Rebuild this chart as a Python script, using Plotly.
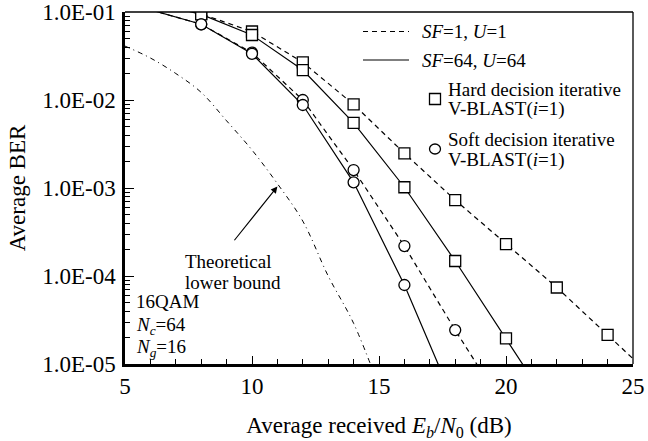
import math
import plotly.graph_objects as go

# ---------------- data ----------------
snr_hard_sf1 = [6, 8, 10, 12, 14, 16, 18, 20, 22, 24, 25]
ber_hard_sf1 = [0.13, 0.095, 0.060, 0.0268, 0.0089, 0.00248, 0.00073, 0.00023, 7.4e-5, 2.14e-5, 1.15e-5]

snr_hard_sf64 = [6, 8, 10, 12, 14, 16, 18, 20, 21]
ber_hard_sf64 = [0.13, 0.094, 0.0548, 0.0219, 0.0055, 0.00102, 0.000148, 1.96e-5, 7.0e-6]

snr_soft_sf1 = [6, 8, 10, 12, 14, 16, 18, 19]
ber_soft_sf1 = [0.106, 0.0725, 0.0345, 0.0100, 0.0016, 0.000219, 2.43e-5, 8.5e-6]

snr_soft_sf64 = [6, 8, 10, 12, 14, 16, 18]
ber_soft_sf64 = [0.106, 0.0725, 0.0335, 0.00877, 0.00116, 7.9e-5, 3.5e-6]

snr_theory = [5, 6, 7, 8, 9, 10, 11, 12, 13, 14, 15]
ber_theory = [0.041, 0.030, 0.020, 0.0122, 0.0058, 0.0027, 0.00112, 0.00042, 0.0001, 2.9e-5, 5.5e-6]

# marker subsets (simulated points)
mk_hard_sf1 = slice(1, 10)
mk_hard_sf64 = slice(1, 8)
mk_soft_sf1 = slice(1, 7)
mk_soft_sf64 = slice(1, 6)

y_tick_vals = [1e-5, 1e-4, 1e-3, 1e-2, 1e-1]
y_tick_text = ["1.0E-05", "1.0E-04", "1.0E-03", "1.0E-02", "1.0E-01"]
x_tick_vals = [5, 10, 15, 20, 25]

FONT = "Liberation Serif, Times New Roman, serif"
DASH = "5px,4px"

fig = go.Figure()

def add_curve(x, y, dash, sl, symbol):
    fig.add_trace(go.Scatter(x=x, y=y, mode="lines",
                             line=dict(color="black", width=1.2, dash=dash),
                             showlegend=False, hoverinfo="skip"))
    fig.add_trace(go.Scatter(x=x[sl], y=y[sl], mode="markers",
                             marker=dict(symbol=symbol, size=11, color="white",
                                         line=dict(color="black", width=1.3)),
                             showlegend=False))

fig.add_trace(go.Scatter(x=snr_theory, y=ber_theory, mode="lines",
                         line=dict(color="black", width=1.0, dash="5px,4px,1px,4px", shape="spline"),
                         showlegend=False))
add_curve(snr_hard_sf1, ber_hard_sf1, DASH, mk_hard_sf1, "square")
add_curve(snr_hard_sf64, ber_hard_sf64, "solid", mk_hard_sf64, "square")
add_curve(snr_soft_sf1, ber_soft_sf1, DASH, mk_soft_sf1, "circle")
add_curve(snr_soft_sf64, ber_soft_sf64, "solid", mk_soft_sf64, "circle")

# plot area in pixels: x 125..633, y 12..364
L, R, T, B = 125, 633, 12, 364
def PX(px):
    return (px - L) / (R - L)
def PY(py):
    return (B - py) / (B - T)

shapes = [
    # thin top/right frame
    dict(type="line", xref="paper", yref="paper", x0=0, x1=1, y0=1, y1=1,
         line=dict(color="black", width=1.3)),
    dict(type="line", xref="paper", yref="paper", x0=1, x1=1, y0=0, y1=1,
         line=dict(color="black", width=1.3)),
    # legend samples
    dict(type="line", xref="paper", yref="paper", x0=PX(363), x1=PX(409), y0=PY(31.5), y1=PY(31.5),
         line=dict(color="black", width=1.2, dash=DASH)),
    dict(type="line", xref="paper", yref="paper", x0=PX(363), x1=PX(409), y0=PY(60), y1=PY(60),
         line=dict(color="black", width=1.2)),
    dict(type="rect", xref="paper", yref="paper", x0=PX(429.5), x1=PX(440.5), y0=PY(104.5), y1=PY(93.5),
         line=dict(color="black", width=1.3), fillcolor="white"),
    dict(type="circle", xref="paper", yref="paper", x0=PX(429.5), x1=PX(440.5), y0=PY(154), y1=PY(144),
         line=dict(color="black", width=1.3), fillcolor="white"),
]

def txt(s, px, py, size=19):
    return dict(text=s, xref="paper", yref="paper", x=PX(px), y=PY(py),
                xanchor="left", yanchor="middle", showarrow=False,
                font=dict(family=FONT, size=size, color="black"))

annotations = [
    txt("<i>SF</i>=1, <i>U</i>=1", 420, 31.5),
    txt("<i>SF</i>=64, <i>U</i>=64", 420, 60),
    txt("Hard decision iterative", 446, 89),
    txt("V-BLAST(<i>i</i>=1)", 446, 109),
    txt("Soft decision iterative", 446, 139),
    txt("V-BLAST(<i>i</i>=1)", 446, 160),
    txt("Theoretical", 183, 261.5),
    txt("lower bound", 183, 282.5),
    txt("16QAM", 134, 301.5),
    txt("<i>N</i><sub><i>c</i></sub>=64", 134, 326),
    txt("<i>N</i><sub><i>g</i></sub>=16", 134, 348),
    # arrow pointing at the theoretical bound
    dict(x=11.0, y=math.log10(1.04e-3), ax=9.26, ay=math.log10(2.45e-4),
         xref="x", yref="y", axref="x", ayref="y", text="", showarrow=True,
         arrowhead=2, arrowsize=1.2, arrowwidth=1.1, arrowcolor="black"),
]

fig.update_layout(
    width=648, height=441,
    margin=dict(l=L, r=648 - R, t=T, b=441 - B, autoexpand=False),
    paper_bgcolor="white", plot_bgcolor="white",
    font=dict(family=FONT, size=23, color="black"),
    shapes=shapes, annotations=annotations,
    showlegend=False,
)

fig.update_xaxes(
    range=[5, 25], tickvals=x_tick_vals, ticks="inside", ticklen=8, tickwidth=1.2,
    tickcolor="black", showline=True, linewidth=2.5, linecolor="black",
    showgrid=False, zeroline=False, ticklabelstandoff=0, automargin=False,
    tickfont=dict(family=FONT, size=23),
    minor=dict(dtick=1, ticks="inside", ticklen=5, tickwidth=1.1, tickcolor="black", showgrid=False),
    title=dict(text="Average received <i>E</i><sub><i>b</i></sub>/<i>N</i><sub>0</sub> (dB)",
               font=dict(family=FONT, size=23), standoff=19),
)

minor_y = [m * 10 ** e for e in range(-5, -1) for m in range(2, 10)]
fig.update_yaxes(
    type="log", range=[-5, -1], tickvals=y_tick_vals, ticktext=y_tick_text,
    ticks="inside", ticklen=9, tickwidth=1.2, tickcolor="black",
    showline=True, linewidth=2.5, linecolor="black", showgrid=False, zeroline=False,
    tickfont=dict(family=FONT, size=23), ticklabelstandoff=2, automargin=False,
    minor=dict(tickvals=minor_y, ticks="inside", ticklen=5, tickwidth=1.1, tickcolor="black", showgrid=False),
    title=dict(text="Average BER", font=dict(family=FONT, size=23), standoff=11),
)

fig.write_html("out.html", config={"displayModeBar": False},
               post_script="document.body.style.margin='0';")
